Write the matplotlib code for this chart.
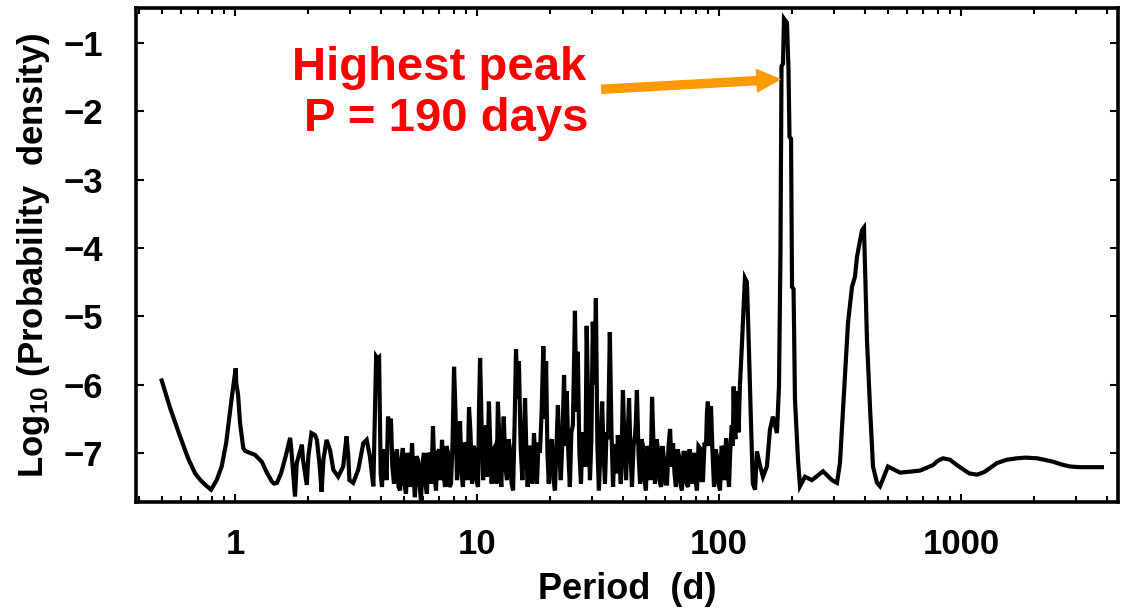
import matplotlib
matplotlib.use('Agg')
import matplotlib.pyplot as plt
from matplotlib.ticker import FixedLocator, LogLocator, NullFormatter

plt.rcParams['font.family'] = ['Liberation Sans', 'DejaVu Sans']
plt.rcParams['font.weight'] = 'bold'
plt.rcParams['mathtext.default'] = 'regular'

# periodogram (period in days, log10 probability density)
# short periods: smooth part before the noise starts
period_short = [0.498, 0.54, 0.593, 0.64, 0.684, 0.72, 0.76, 0.796, 0.84, 0.881,
                0.92, 0.95, 0.969, 1.007, 1.012, 1.03, 1.049, 1.082, 1.10, 1.15,
                1.21, 1.25, 1.29, 1.35, 1.42, 1.45, 1.49, 1.55, 1.62, 1.69,
                1.71, 1.77, 1.80, 1.89, 1.91, 1.98, 2.01, 2.07, 2.14, 2.18,
                2.24, 2.28, 2.32, 2.39, 2.47, 2.55, 2.67, 2.80, 2.89, 2.94,
                2.97, 3.08, 3.23, 3.39, 3.50, 3.61, 3.73]
logp_short = [-5.94, -6.35, -6.76, -7.08, -7.30, -7.40, -7.48, -7.54, -7.40, -7.20,
              -6.85, -6.45, -6.20, -5.76, -5.98, -6.15, -6.56, -6.93, -6.97, -7.00,
              -7.03, -7.08, -7.13, -7.28, -7.42, -7.45, -7.44, -7.30, -7.05, -6.78,
              -6.96, -7.64, -7.15, -6.88, -7.10, -7.47, -7.05, -6.71, -6.74, -6.81,
              -7.20, -7.57, -7.10, -6.81, -6.96, -7.25, -7.35, -7.20, -6.76, -7.05,
              -7.40, -7.44, -7.25, -6.86, -6.81, -7.05, -7.49]

# the dense noisy band, 4 d .. 120 d
period_noise = [3.83, 3.88, 3.94, 4.00, 4.05, 4.11, 4.17, 4.23, 4.29, 4.35,
                4.41, 4.47, 4.54, 4.60, 4.67, 4.74, 4.81, 4.87, 4.94, 5.01,
                5.09, 5.16, 5.24, 5.31, 5.39, 5.46, 5.54, 5.62, 5.70, 5.78,
                5.87, 5.95, 6.04, 6.12, 6.21, 6.30, 6.39, 6.48, 6.58, 6.67,
                6.77, 6.87, 6.97, 7.07, 7.17, 7.27, 7.38, 7.48, 7.59, 7.70,
                7.81, 7.92, 8.04, 8.15, 8.27, 8.39, 8.51, 8.63, 8.75, 8.88,
                9.01, 9.14, 9.27, 9.40, 9.54, 9.67, 9.81, 9.95, 10.1, 10.2,
                10.3, 10.45, 10.6, 10.75, 10.9, 11.05, 11.2, 11.35, 11.5, 11.7,
                11.9, 12.05, 12.2, 12.4, 12.6, 12.75, 12.9, 13.1, 13.3, 13.5,
                13.7, 13.9, 14.1, 14.3, 14.5, 14.7, 14.9, 15.15, 15.4, 15.6,
                15.8, 16.0, 16.2, 16.45, 16.7, 16.95, 17.2, 17.45, 17.7, 17.95,
                18.2, 18.5, 18.8, 19.05, 19.3, 19.55, 19.8, 20.1, 20.4, 20.7,
                21.0, 21.3, 21.6, 21.9, 22.2, 22.55, 22.9, 23.2, 23.5, 23.85,
                24.2, 24.55, 24.9, 25.15, 25.4, 25.75, 26.1, 26.5, 26.9, 27.3,
                27.7, 28.05, 28.4, 28.85, 29.3, 29.7, 30.1, 30.55, 31.0, 31.45,
                31.9, 32.4, 32.9, 33.35, 33.8, 34.3, 34.8, 35.1, 35.4, 35.95,
                36.5, 37.0, 37.5, 37.85, 38.2, 38.75, 39.3, 39.7, 40.1, 40.7,
                41.3, 41.9, 42.5, 43.1, 43.7, 44.35, 45.0, 45.4, 45.8, 46.5,
                47.2, 47.85, 48.5, 49.2, 49.9, 50.65, 51.4, 52.15, 52.9, 53.65,
                54.4, 55.2, 56.0, 56.8, 57.6, 58.45, 59.3, 60.15, 61.0, 61.9,
                62.8, 63.7, 64.6, 65.5, 66.4, 67.4, 68.4, 69.35, 70.3, 71.35,
                72.4, 73.45, 74.5, 75.55, 76.6, 77.7, 78.8, 79.95, 81.1, 82.3,
                83.5, 84.7, 85.9, 87.15, 88.4, 89.2, 90.0, 91.35, 92.7, 94.05,
                95.4, 96.8, 98.2, 99.6, 101, 102.5, 104, 105.5, 107, 108.5,
                110, 111.5, 113, 114, 115, 116, 117, 118, 119, 120.5]
logp_noise = [-5.59, -5.62, -5.60, -7.30, -7.50, -6.95, -7.05, -7.40, -6.47, -6.80,
              -6.50, -7.20, -7.45, -7.05, -6.95, -7.50, -7.55, -7.10, -6.93, -7.45,
              -7.60, -7.00, -7.15, -7.50, -6.86, -7.30, -7.65, -7.05, -7.10, -7.45,
              -7.70, -7.15, -7.00, -7.45, -7.60, -7.00, -7.05, -7.45, -6.61, -7.30,
              -7.55, -7.00, -6.95, -7.40, -6.81, -7.30, -7.50, -6.90, -7.00, -7.50,
              -7.45, -6.90, -5.74, -6.40, -7.40, -6.80, -6.54, -7.30, -7.50, -6.85,
              -6.90, -7.40, -6.33, -6.70, -7.45, -6.90, -6.95, -7.40, -7.50, -6.30,
              -5.61, -6.60, -7.40, -6.90, -6.60, -7.35, -6.25, -6.90, -7.45, -6.95,
              -6.90, -7.45, -6.25, -6.90, -7.50, -6.85, -6.47, -7.20, -7.40, -6.80,
              -6.95, -7.45, -7.55, -6.60, -5.48, -6.20, -5.66, -6.90, -7.40, -6.90,
              -6.20, -7.00, -7.50, -6.90, -6.95, -7.45, -6.71, -7.20, -7.45, -6.85,
              -7.00, -6.40, -5.44, -6.50, -5.66, -7.00, -7.45, -6.90, -6.80, -7.40,
              -7.55, -6.90, -6.30, -7.00, -7.40, -6.80, -5.86, -6.90, -6.10, -7.00,
              -7.50, -6.70, -6.60, -5.80, -4.92, -6.40, -5.52, -7.00, -7.45, -6.70,
              -6.90, -7.20, -5.14, -6.40, -7.40, -6.80, -5.08, -6.00, -4.74, -6.90,
              -7.55, -6.90, -6.25, -7.00, -7.45, -6.70, -6.80, -6.00, -5.23, -6.70,
              -7.50, -6.90, -6.90, -7.30, -6.74, -7.10, -7.45, -6.80, -6.08, -6.90,
              -7.40, -6.80, -6.20, -7.00, -7.50, -6.90, -6.75, -6.50, -6.08, -7.00,
              -7.45, -6.80, -6.90, -7.40, -7.55, -6.90, -7.00, -7.40, -6.18, -6.90,
              -7.45, -6.80, -6.95, -7.40, -7.50, -6.90, -7.10, -7.45, -7.45, -6.90,
              -6.65, -7.20, -6.86, -7.30, -7.50, -6.95, -7.05, -7.45, -7.55, -7.00,
              -7.00, -7.45, -7.50, -6.95, -7.05, -7.45, -7.00, -7.40, -7.55, -6.90,
              -6.93, -7.40, -7.40, -6.85, -6.90, -6.40, -6.25, -6.90, -6.32, -7.00,
              -7.50, -6.95, -7.05, -7.45, -7.55, -6.90, -6.95, -7.40, -6.79, -7.20,
              -7.50, -6.90, -6.60, -6.90, -6.03, -6.70, -6.80, -6.20, -6.10, -6.70]

# the 128 d and 190 d peaks
period_peaks = [122, 124.5, 128, 130.5, 133, 135.5, 138, 141, 143.5, 147.6,
                152, 157.8, 162.4, 167.1, 173.6, 177.0, 179.5, 181.3, 183.9, 185.6,
                191.0, 193.8, 195.6, 198.5, 200.4, 203.3, 206.1, 212.1, 216.1]
logp_peaks = [-6.03, -5.39, -4.44, -4.50, -5.49, -6.52, -7.45, -7.54, -6.98, -7.18,
              -7.35, -7.20, -6.66, -6.47, -6.71, -6.03, -4.08, -1.34, -1.30, -0.64,
              -0.70, -1.40, -2.37, -2.40, -4.57, -4.60, -6.22, -7.10, -7.49]

# long periods: the 380 d peak and the flat tail
period_long = [226.7, 242.3, 269.1, 293.1, 307.4, 316.2, 331.7, 341.3, 354.5, 364.8,
               371.8, 389.9, 397.4, 401.2, 408.9, 420.7, 433.0, 449.8, 462.8, 499.3,
               559.7, 600, 677.0, 720, 766.1, 800, 842.6, 900, 962.8, 1000,
               1080, 1164.6, 1250, 1408.6, 1550, 1703.9, 1850, 2060.5, 2200, 2400.2,
               2600, 2821.4, 3100, 3824]
logp_long = [-7.35, -7.40, -7.27, -7.40, -7.44, -7.15, -5.88, -5.10, -4.57, -4.42,
             -4.13, -3.74, -3.70, -4.27, -5.35, -6.32, -7.20, -7.44, -7.49, -7.20,
             -7.29, -7.28, -7.26, -7.22, -7.18, -7.12, -7.08, -7.10, -7.18, -7.22,
             -7.30, -7.32, -7.28, -7.15, -7.10, -7.08, -7.07, -7.08, -7.10, -7.13,
             -7.17, -7.20, -7.21, -7.21]

period = period_short + period_noise + period_peaks + period_long
logp = logp_short + logp_noise + logp_peaks + logp_long

x_ticks = [1, 10, 100, 1000]
x_tick_labels = ['1', '10', '100', '1000']
y_ticks = [-1, -2, -3, -4, -5, -6, -7]
y_tick_labels = ['\u22121', '\u22122', '\u22123', '\u22124', '\u22125', '\u22126', '\u22127']

fig = plt.figure(figsize=(11.27, 6.11), dpi=100)
ax = fig.add_axes([0.1207, 0.1784, 0.8713, 0.8085])

ax.plot(period, logp, color='black', lw=3.0, solid_joinstyle='miter')

ax.set_xscale('log')
ax.set_xlim(0.39, 4455)
ax.set_ylim(-7.72, -0.485)

ax.xaxis.set_major_locator(FixedLocator(x_ticks))
ax.set_xticklabels(x_tick_labels)
ax.xaxis.set_minor_locator(LogLocator(base=10, subs=range(2, 10)))
ax.xaxis.set_minor_formatter(NullFormatter())
ax.set_yticks(y_ticks)
ax.set_yticklabels(y_tick_labels)

ax.tick_params(which='both', direction='in', top=True, right=True, width=1.5, color='black')
ax.tick_params(which='major', length=6)
ax.tick_params(which='minor', length=4)
ax.tick_params(axis='x', which='major', labelsize=25, pad=19)
ax.tick_params(axis='y', which='major', labelsize=25, pad=24)
for spine in ax.spines.values():
    spine.set_linewidth(2.6)

ax.set_xlabel('Period  (d)', fontsize=26, fontweight='bold', labelpad=8)
ax.set_ylabel('Log$_{10}$ (Probability  density)', fontsize=25, fontweight='bold', labelpad=8)

# red annotation and orange arrow to the highest peak
ax.text(0.259, 0.869, 'Highest peak', transform=fig.transFigure, color='red',
        fontsize=34, fontweight='bold', ha='left', va='baseline')
ax.text(0.270, 0.785, 'P = 190 days', transform=fig.transFigure, color='red',
        fontsize=34, fontweight='bold', ha='left', va='baseline')
ax.annotate('', xy=(178.7, -1.53), xytext=(32.8, -1.675),
            arrowprops=dict(arrowstyle='simple,head_length=0.83,head_width=0.8,tail_width=0.29',
                            color='#FF9900', mutation_scale=20, shrinkA=0, shrinkB=0))

fig.savefig('out.png', dpi=100)
